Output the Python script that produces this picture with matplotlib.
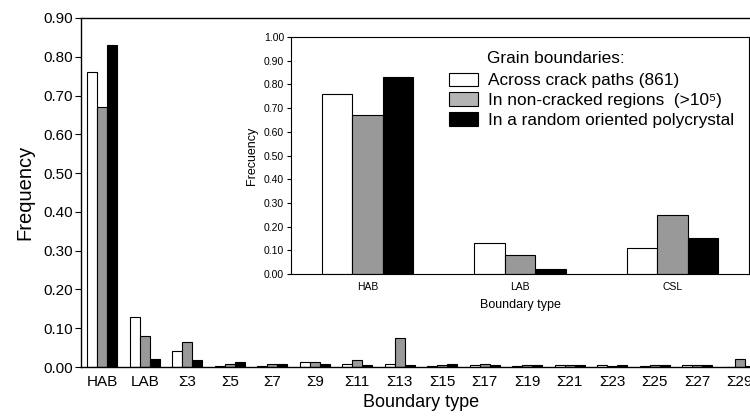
import matplotlib
matplotlib.use("Agg")
import matplotlib.pyplot as plt
import numpy as np
from matplotlib.patches import Patch

plt.rcParams['font.family'] = ['Liberation Sans', 'DejaVu Sans']

# main chart data
tipos = ["HAB", "LAB", "Σ3", "Σ5", "Σ7", "Σ9", "Σ11", "Σ13", "Σ15",
         "Σ17", "Σ19", "Σ21", "Σ23", "Σ25", "Σ27", "Σ29"]
trinca = [0.76, 0.13, 0.04, 0.002, 0.002, 0.012, 0.008, 0.008, 0.002,
          0.005, 0.002, 0.004, 0.004, 0.002, 0.004, 0.0]
sem_trinca = [0.67, 0.08, 0.065, 0.008, 0.008, 0.012, 0.018, 0.075, 0.004,
              0.008, 0.004, 0.004, 0.002, 0.004, 0.004, 0.021]
aleatorio = [0.83, 0.02, 0.018, 0.012, 0.008, 0.008, 0.005, 0.005, 0.008,
             0.005, 0.004, 0.004, 0.004, 0.004, 0.004, 0.003]

# inset data
tipos_in = ["HAB", "LAB", "CSL"]
trinca_in = [0.76, 0.13, 0.11]
sem_trinca_in = [0.67, 0.08, 0.25]
aleatorio_in = [0.83, 0.02, 0.15]

legendas = ["Across crack paths (861)",
            "In non-cracked regions  (>10\u2075)",
            "In a random oriented polycrystal"]

cinza = "#999999"

fig = plt.figure(figsize=(7.5, 4.19), dpi=100)

# ---- grafico principal
ax = fig.add_axes([81/750, 52/419, 680/750, 349/419])
x = np.arange(len(tipos))
w = 0.235
ax.bar(x - w, trinca, w, color="white", edgecolor="black", linewidth=0.8)
ax.bar(x, sem_trinca, w, color=cinza, edgecolor="black", linewidth=0.8)
ax.bar(x + w, aleatorio, w, color="black", edgecolor="black", linewidth=0.8)
ax.set_xlim(-0.5, len(tipos) - 0.5)
ax.set_ylim(0, 0.9)
ax.set_yticks(np.arange(0, 0.91, 0.1))
ax.set_yticklabels(["%.2f" % v for v in np.arange(0, 0.91, 0.1)])
ax.set_xticks(x)
ax.set_xticklabels(tipos)
ax.tick_params(axis="x", length=0, labelsize=11, pad=6)
ax.tick_params(axis="y", direction="out", length=4, labelsize=11, pad=2)
ax.set_ylabel("Frequency", fontsize=14.5, labelpad=6)
ax.set_xlabel("Boundary type", fontsize=13, labelpad=3)
for s in ax.spines.values():
    s.set_linewidth(1.0)

# ---- grafico interno
axi = fig.add_axes([291/750, 145/419, 458/750, 237/419])
xi = np.arange(len(tipos_in))
wi = 0.2
axi.bar(xi - wi, trinca_in, wi, color="white", edgecolor="black", linewidth=0.8)
axi.bar(xi, sem_trinca_in, wi, color=cinza, edgecolor="black", linewidth=0.8)
axi.bar(xi + wi, aleatorio_in, wi, color="black", edgecolor="black", linewidth=0.8)
axi.set_xlim(-0.5, 2.5)
axi.set_ylim(0, 1.0)
axi.set_yticks(np.arange(0, 1.01, 0.1))
axi.set_yticklabels(["%.2f" % v for v in np.arange(0, 1.01, 0.1)])
axi.set_xticks(xi)
axi.set_xticklabels(tipos_in)
axi.tick_params(axis="x", length=0, labelsize=7.5, pad=6)
axi.tick_params(axis="y", direction="out", length=3, labelsize=7.5, pad=2)
axi.set_ylabel("Frecuency", fontsize=9, labelpad=4)
axi.set_xlabel("Boundary type", fontsize=9, labelpad=5)
for s in axi.spines.values():
    s.set_linewidth(0.8)

handles = [Patch(facecolor="white", edgecolor="black", linewidth=0.8),
           Patch(facecolor="#b4b4b4", edgecolor="black", linewidth=0.8),
           Patch(facecolor="black", edgecolor="black", linewidth=0.8)]
axi.legend(handles, legendas, loc="upper left", bbox_to_anchor=(0.345, 0.85),
           frameon=False, fontsize=12.4, handlelength=1.7, handleheight=0.85,
           handletextpad=0.55, labelspacing=0.22, borderpad=0, borderaxespad=0)
axi.text(0.428, 0.911, "Grain boundaries:", transform=axi.transAxes,
         fontsize=12.4, ha="left", va="center")

fig.savefig("out.png", dpi=100)
